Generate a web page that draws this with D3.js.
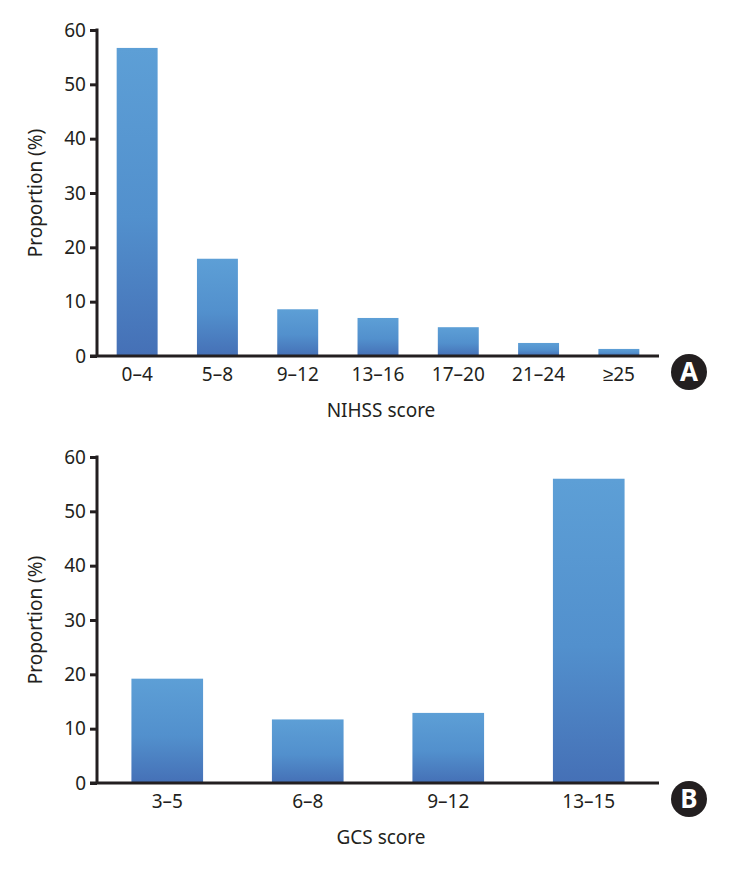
<!DOCTYPE html>
<html><head><meta charset="utf-8">
<script src="https://cdn.jsdelivr.net/npm/d3@7"></script>
<style>body{margin:0;background:#fff;} text{font-family:"Noto Sans",sans-serif;fill:#231f20;}</style>
</head><body>
<svg id="c" width="737" height="873"></svg>
<script>
const nihssCategories = ["0–4","5–8","9–12","13–16","17–20","21–24","≥25"];
const nihssValues = [56.7, 17.9, 8.6, 7.0, 5.3, 2.4, 1.3];
const gcsCategories = ["3–5","6–8","9–12","13–15"];
const gcsValues = [19.2, 11.7, 12.9, 56.0];
const yTicks = [0,10,20,30,40,50,60];

const svg = d3.select("#c");
const defs = svg.append("defs");
const grad = defs.append("linearGradient").attr("id","g").attr("x1",0).attr("y1",0).attr("x2",0).attr("y2",1);
grad.append("stop").attr("offset","0%").attr("stop-color","#5d9fd6");
grad.append("stop").attr("offset","55%").attr("stop-color","#5290cd");
grad.append("stop").attr("offset","100%").attr("stop-color","#4570b6");

function panel(cats, vals, top, bottom, xLabel, letter){
  const left = 97, right = 659;
  const x = d3.scaleBand().domain(cats).range([left,right]).paddingInner(0.49).paddingOuter(0.245);
  const y = d3.scaleLinear().domain([0,60]).range([bottom, top]);
  const g = svg.append("g");
  g.selectAll("rect.bar").data(vals).join("rect").attr("class","bar")
    .attr("x",(d,i)=>x(cats[i])).attr("width",x.bandwidth())
    .attr("y",d=>y(d)).attr("height",d=>y(0)-y(d)).attr("fill","url(#g)");
  const ya = g.append("g").attr("transform",`translate(${left},0)`)
    .call(d3.axisLeft(y).tickValues(yTicks).tickSize(7).tickPadding(4));
  ya.select(".domain").attr("stroke","#231f20").attr("stroke-width",3).attr("d",`M0,${top-1.5}V${bottom}`);
  ya.selectAll(".tick line").attr("stroke","#231f20").attr("stroke-width",3);
  ya.selectAll(".tick text").attr("font-size",19).style("fill","#231f20");
  const xa = g.append("g").attr("transform",`translate(0,${bottom})`)
    .call(d3.axisBottom(x).tickSize(0).tickPadding(12));
  xa.select(".domain").attr("stroke","#231f20").attr("stroke-width",3).attr("d",`M${left-7},0H${right}`);
  xa.selectAll(".tick text").attr("font-size",19).style("fill","#231f20");
  g.append("text").attr("x",381).attr("y",bottom+61).attr("text-anchor","middle").attr("font-size",19).text(xLabel);
  g.append("text").attr("transform",`translate(42,${(top+bottom)/2}) rotate(-90)`).attr("text-anchor","middle").attr("font-size",19).text("Proportion (%)");
  g.append("circle").attr("cx",689).attr("cy",bottom+16).attr("r",18).attr("fill","#231f20");
  g.append("text").attr("x",689).attr("y",bottom+16).attr("dy","0.36em").attr("text-anchor","middle")
    .attr("font-size",26).attr("font-weight","bold").style("fill","#fff").text(letter);
}
panel(nihssCategories, nihssValues, 30, 356, "NIHSS score", "A");
panel(gcsCategories, gcsValues, 457, 783, "GCS score", "B");
</script>
</body></html>
